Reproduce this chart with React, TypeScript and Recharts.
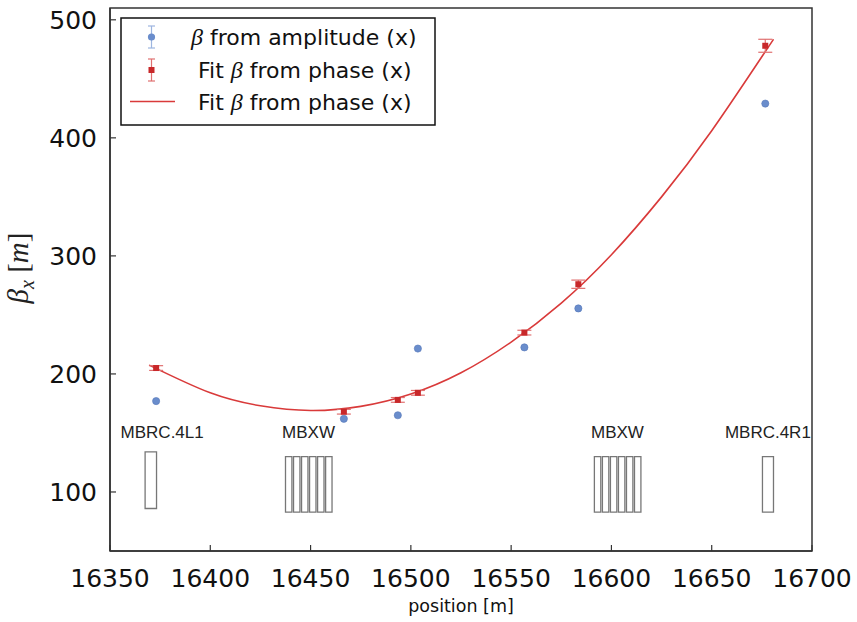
import React from "react";
import {
  ComposedChart,
  Scatter,
  Line,
  XAxis,
  YAxis,
  ErrorBar,
  ReferenceArea,
  ReferenceDot,
  Label,
} from "recharts";

const xTicks = [16350, 16400, 16450, 16500, 16550, 16600, 16650, 16700];
const yTicks = [100, 200, 300, 400, 500];

// BPM positions and measured beta
const bpmPosition = [16373, 16466.6, 16493.5, 16503.5, 16556.6, 16583.5, 16676.7];
const betaAmp = [177, 162, 165, 221.5, 222.5, 255.5, 429];
const betaPhase = [205, 168, 178, 184, 235, 276, 478];
const betaPhaseErr = [2, 2, 2, 2, 2, 3.5, 5.5];

// fitted curve
const fitPosition = [16369.5, 16400, 16425, 16450, 16475, 16500, 16525, 16550, 16575, 16600, 16625, 16650, 16680.8];
const fitBeta = [207.5, 184, 173, 169, 172.5, 183, 201, 227, 260, 301, 350, 406, 483.5];

// magnet outlines
const magnetStart = [16367.5, 16437.5, 16441.5, 16445.5, 16449.5, 16453.5, 16457.5, 16591.5, 16595.5, 16599.5, 16603.5, 16607.5, 16611.5, 16675.3];
const magnetEnd = [16373.2, 16440.7, 16444.7, 16448.7, 16452.7, 16456.7, 16460.7, 16594.7, 16598.7, 16602.7, 16606.7, 16610.7, 16614.7, 16680.8];
const magnetBottom = [86, 83, 83, 83, 83, 83, 83, 83, 83, 83, 83, 83, 83, 83];
const magnetTop = [134, 130, 130, 130, 130, 130, 130, 130, 130, 130, 130, 130, 130, 130];

const magnetNames = ["MBRC.4L1", "MBXW", "MBXW", "MBRC.4R1"];
const magnetLabelX = [16376, 16449, 16603, 16678];
const magnetLabelY = 151;

const xDomain = [16350, 16700];
const yDomain = [50, 510];

const ampData = bpmPosition.map((x, i) => ({ x, y: betaAmp[i] }));
const phaseData = bpmPosition.map((x, i) => ({ x, y: betaPhase[i], err: betaPhaseErr[i] }));
const fitData = fitPosition.map((x, i) => ({ x, y: fitBeta[i] }));

const axisColor = "#333";
const blue = "#6a8dcc";
const red = "#c8282a";
const sans = "DejaVu Sans";

const XTickBottom = (props: any) => {
  const { x, y, payload } = props;
  return (
    <g>
      <line x1={x} y1={y} x2={x} y2={y - 6} stroke={axisColor} strokeWidth={1.2} />
      <text x={x} y={y + 36} textAnchor="middle" fontSize={25} fontFamily={sans} fill="#111">
        {payload.value}
      </text>
    </g>
  );
};

const XTickTop = (props: any) => {
  const { x, y } = props;
  return <line x1={x} y1={y} x2={x} y2={y + 6} stroke={axisColor} strokeWidth={1.2} />;
};

const YTickLeft = (props: any) => {
  const { x, y, payload } = props;
  return (
    <g>
      <line x1={x} y1={y} x2={x + 6} y2={y} stroke={axisColor} strokeWidth={1.2} />
      <text x={x - 13} y={y + 9} textAnchor="end" fontSize={25} fontFamily={sans} fill="#111">
        {payload.value}
      </text>
    </g>
  );
};

const YTickRight = (props: any) => {
  const { x, y } = props;
  return <line x1={x} y1={y} x2={x - 6} y2={y} stroke={axisColor} strokeWidth={1.2} />;
};

const Circle = (props: any) => (
  <circle cx={props.cx} cy={props.cy} r={3.6} fill={blue} stroke="#5577b8" strokeWidth={0.6} />
);

const Square = (props: any) => (
  <rect x={props.cx - 3} y={props.cy - 3} width={6} height={6} fill={red} />
);

function LegendBox() {
  return (
    <svg
      width={316}
      height={109}
      style={{ position: "absolute", left: 120, top: 17 }}
    >
      <rect x={1} y={1} width={314} height={107} fill="#fff" stroke="#111" strokeWidth={1.5} />
      {/* row 1 */}
      <line x1={31.5} y1={9} x2={31.5} y2={31} stroke="#9db5e0" strokeWidth={1.2} />
      <line x1={28} y1={9} x2={35} y2={9} stroke="#9db5e0" strokeWidth={1.2} />
      <line x1={28} y1={31} x2={35} y2={31} stroke="#9db5e0" strokeWidth={1.2} />
      <circle cx={31.5} cy={20} r={3.6} fill={blue} />
      <text x={71} y={28} fontSize={22} fontFamily={sans} fill="#111">
        <tspan fontFamily="Liberation Serif" fontStyle="italic" fontSize={24}>β</tspan>
        <tspan> from amplitude (x)</tspan>
      </text>
      {/* row 2 */}
      <line x1={31.5} y1={42} x2={31.5} y2={64} stroke="#e07070" strokeWidth={1.2} />
      <line x1={28} y1={42} x2={35} y2={42} stroke="#e07070" strokeWidth={1.2} />
      <line x1={28} y1={64} x2={35} y2={64} stroke="#e07070" strokeWidth={1.2} />
      <rect x={28.5} y={50} width={6} height={6} fill={red} />
      <text x={78} y={61} fontSize={22} fontFamily={sans} fill="#111">
        <tspan>Fit </tspan>
        <tspan fontFamily="Liberation Serif" fontStyle="italic" fontSize={24}>β</tspan>
        <tspan> from phase (x)</tspan>
      </text>
      {/* row 3 */}
      <line x1={10} y1={84.5} x2={55} y2={84.5} stroke="#d93a3a" strokeWidth={1.5} />
      <text x={78} y={93} fontSize={22} fontFamily={sans} fill="#111">
        <tspan>Fit </tspan>
        <tspan fontFamily="Liberation Serif" fontStyle="italic" fontSize={24}>β</tspan>
        <tspan> from phase (x)</tspan>
      </text>
    </svg>
  );
}

export default function App() {
  return (
    <div style={{ position: "absolute", left: 0, top: 0, width: 857, height: 622, background: "#fff" }}>
      <ComposedChart
        width={857}
        height={622}
        margin={{ top: 8, right: 45, bottom: 0, left: 0 }}
      >
        <XAxis
          dataKey="x"
          type="number"
          domain={xDomain}
          ticks={xTicks}
          interval={0}
          allowDataOverflow
          height={71}
          tickSize={0}
          tickMargin={0}
          tickLine={false}
          tick={XTickBottom}
          axisLine={{ stroke: axisColor, strokeWidth: 1.5 }}
        >
          <Label
            content={() => (
              <text x={461} y={612} textAnchor="middle" fontSize={17.5} fontFamily={sans} fill="#111">
                position [m]
              </text>
            )}
          />
        </XAxis>
        <XAxis
          xAxisId="top"
          orientation="top"
          dataKey="x"
          type="number"
          domain={xDomain}
          ticks={xTicks}
          interval={0}
          allowDataOverflow
          height={0}
          tickSize={0}
          tickMargin={0}
          tickLine={false}
          tick={XTickTop}
          axisLine={{ stroke: axisColor, strokeWidth: 1.5 }}
        />
        <YAxis
          type="number"
          domain={yDomain}
          ticks={yTicks}
          interval={0}
          allowDataOverflow
          width={110}
          tickSize={0}
          tickMargin={0}
          tickLine={false}
          tick={YTickLeft}
          axisLine={{ stroke: axisColor, strokeWidth: 1.5 }}
        >
          <Label
            content={() => (
              <text
                transform="translate(28, 268) rotate(-90)"
                textAnchor="middle"
                fontSize={29}
                fontFamily="Liberation Serif"
                fill="#222"
              >
                <tspan fontStyle="italic">β</tspan>
                <tspan fontStyle="italic" fontSize={20} dy={6}>x</tspan>
                <tspan dy={-6}> [</tspan>
                <tspan fontStyle="italic">m</tspan>
                <tspan>]</tspan>
              </text>
            )}
          />
        </YAxis>
        <YAxis
          yAxisId="right"
          orientation="right"
          type="number"
          domain={yDomain}
          ticks={yTicks}
          interval={0}
          allowDataOverflow
          width={0}
          tickSize={0}
          tickMargin={0}
          tickLine={false}
          tick={YTickRight}
          axisLine={{ stroke: axisColor, strokeWidth: 1.5 }}
        />

        {/* plot frame */}
        <ReferenceArea
          x1={xDomain[0]}
          x2={xDomain[1]}
          y1={yDomain[0]}
          y2={yDomain[1]}
          fill="none"
          fillOpacity={0}
          stroke={axisColor}
          strokeWidth={1.5}
          ifOverflow="visible"
        />

        {magnetStart.map((s, i) => (
          <ReferenceArea
            key={"m" + i}
            x1={s}
            x2={magnetEnd[i]}
            y1={magnetBottom[i]}
            y2={magnetTop[i]}
            fill="none"
            fillOpacity={0}
            stroke="#777"
            strokeWidth={1.3}
            ifOverflow="visible"
          />
        ))}
        {magnetNames.map((name, i) => (
          <ReferenceDot
            key={"l" + i}
            x={magnetLabelX[i]}
            y={magnetLabelY}
            r={0}
            fill="none"
            stroke="none"
            ifOverflow="visible"
            label={{ value: name, position: "center", fontSize: 17, fontFamily: "Liberation Sans", fill: "#222" }}
          />
        ))}

        <Line
          data={fitData}
          dataKey="y"
          type="natural"
          stroke="#d93a3a"
          strokeWidth={1.6}
          dot={false}
          activeDot={false}
          isAnimationActive={false}
        />
        <Scatter data={ampData} dataKey="y" shape={Circle} isAnimationActive={false} />
        <Scatter data={phaseData} dataKey="y" shape={Square} isAnimationActive={false}>
          <ErrorBar dataKey="err" direction="y" width={7} stroke="#e07070" strokeWidth={1.2} />
        </Scatter>
      </ComposedChart>
      <LegendBox />
    </div>
  );
}
